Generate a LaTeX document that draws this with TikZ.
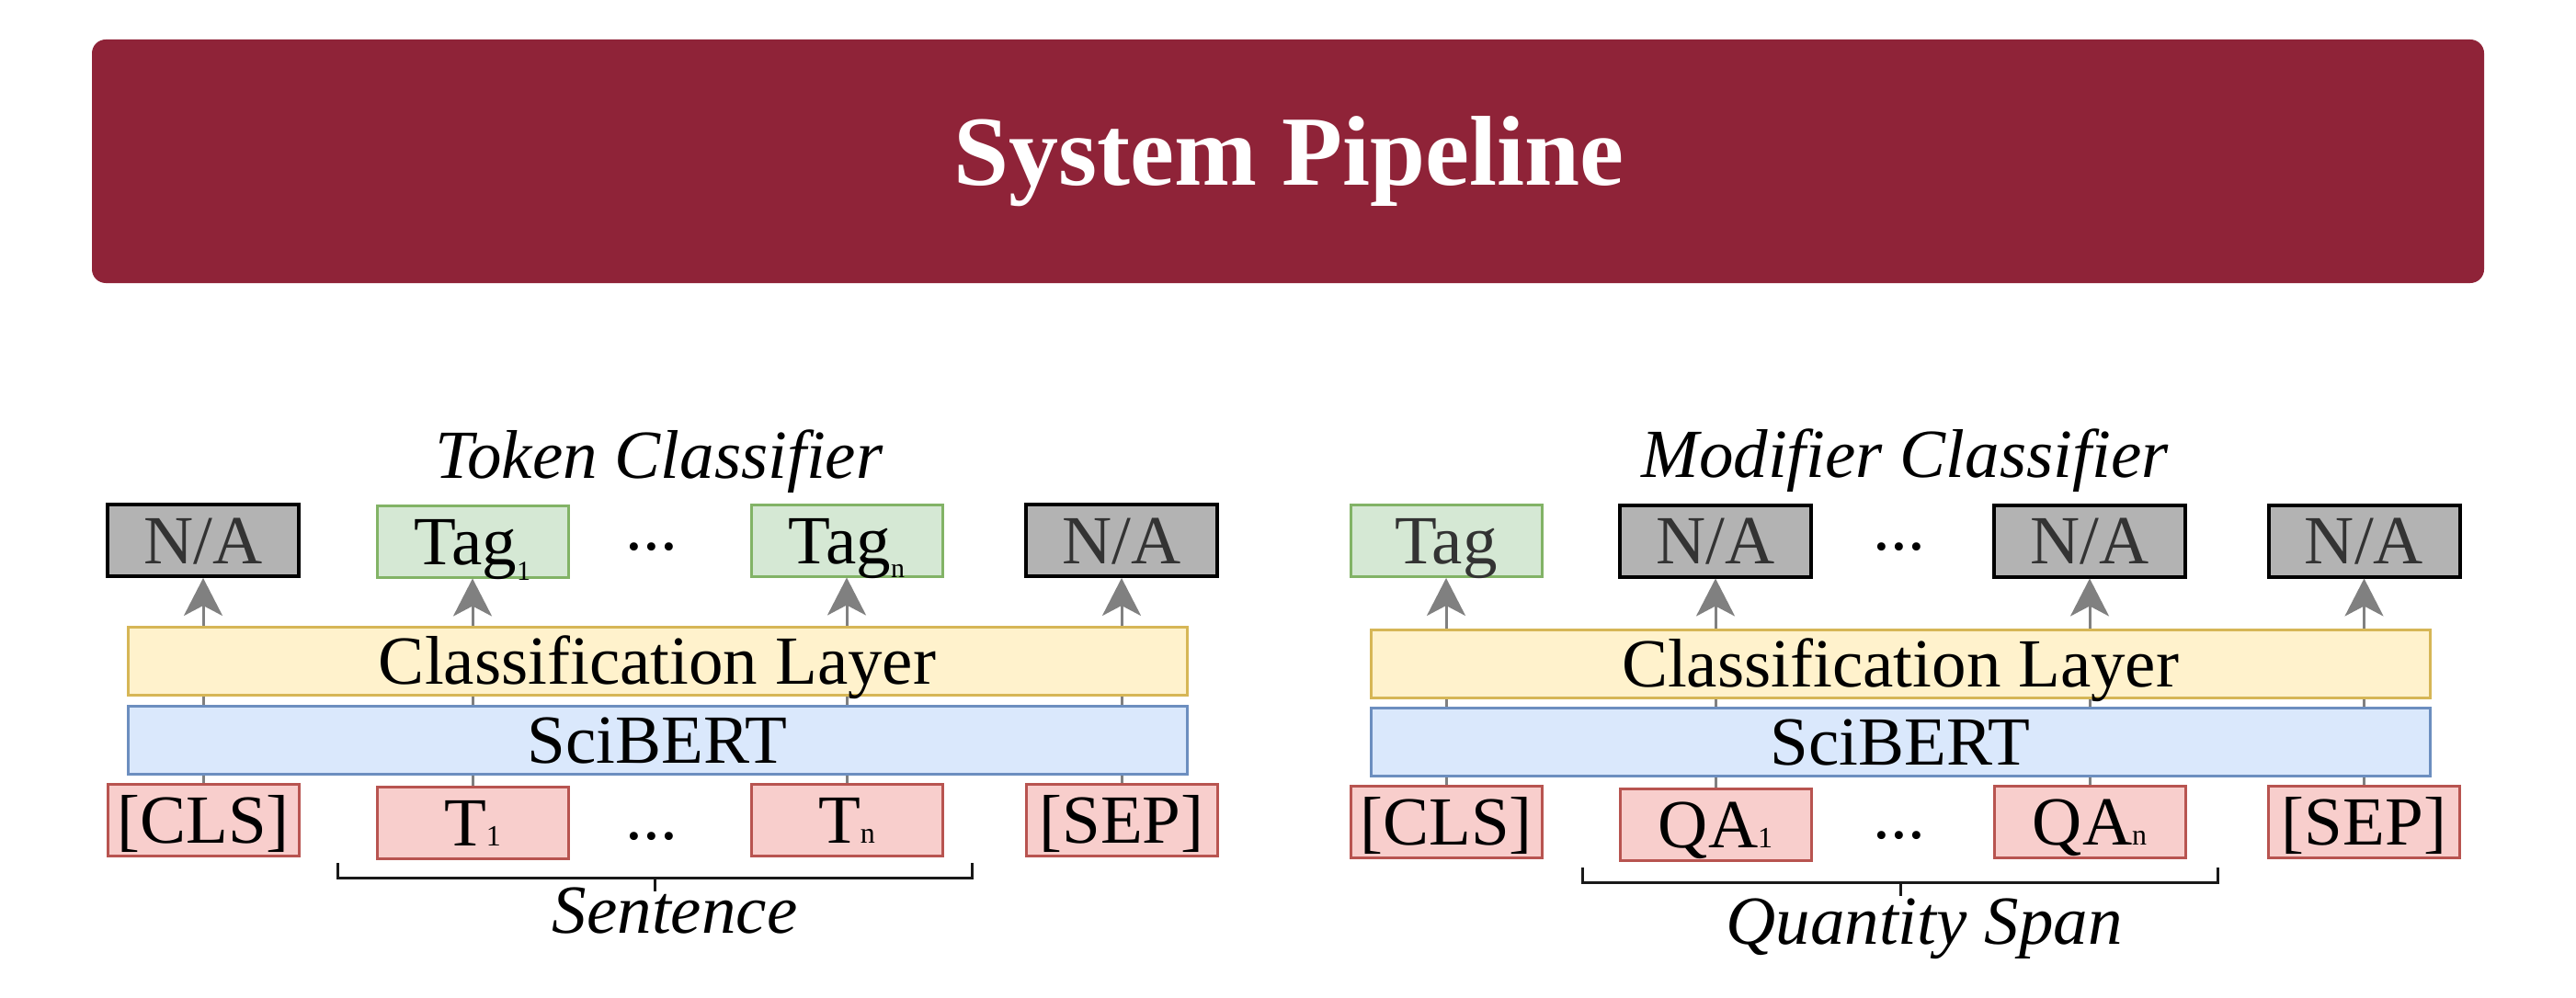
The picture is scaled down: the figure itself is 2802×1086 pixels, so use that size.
\documentclass[tikz,border=0pt]{standalone}
\usepackage{fontspec}
\setmainfont{Liberation Serif}
\usetikzlibrary{arrows.meta}
\definecolor{bannerC}{HTML}{8F2338}
\definecolor{redF}{HTML}{F8CECC}
\definecolor{redB}{HTML}{B85450}
\definecolor{greenF}{HTML}{D5E8D4}
\definecolor{greenB}{HTML}{82B366}
\definecolor{yellowF}{HTML}{FFF2CC}
\definecolor{yellowB}{HTML}{D6B656}
\definecolor{blueF}{HTML}{DAE8FC}
\definecolor{blueB}{HTML}{6C8EBF}
\definecolor{naF}{HTML}{B3B3B3}
\definecolor{naT}{HTML}{333333}
\definecolor{arrowC}{HTML}{808080}
\tikzset{
  lbl/.style={font=\fontsize{75}{75}\selectfont, text height=50pt, text depth=0pt, inner sep=0pt, anchor=center},
  cell/.style={lbl, line width=3pt, minimum width=208pt, minimum height=78pt},
  tokbox/.style={cell, draw=redB, fill=redF},
  nabox/.style={cell, draw=black, fill=naF, text=naT, line width=4pt},
  tagbox/.style={cell, draw=greenB, fill=greenF},
  layerbox/.style={lbl, line width=3pt, minimum width=1152pt, minimum height=74pt},
  clsbox/.style={layerbox, draw=yellowB, fill=yellowF},
  bertbox/.style={layerbox, draw=blueB, fill=blueF},
  conn/.style={draw=arrowC, line width=3pt, -{Stealth[length=41pt,width=42pt,inset=11pt]}},
  brace/.style={draw=black!90, line width=3pt},
  ital/.style={font=\fontsize{75}{75}\selectfont\itshape, inner sep=0pt, anchor=base},
  dots/.style={font=\fontsize{75}{75}\selectfont, inner sep=0pt, anchor=base},
}
\newcommand{\lowsub}[2]{\raisebox{-#1pt}{\fontsize{30}{30}\selectfont #2}}
\newcommand{\onsub}[1]{{\fontsize{32}{32}\selectfont #1}}
\begin{document}
\begin{tikzpicture}[x=1pt,y=-1pt]
\useasboundingbox (0,0) rectangle (2802,1086);
% banner
\node[fill=bannerC, rounded corners=15pt, minimum width=2602pt, minimum height=265pt, inner sep=0pt] (banner) at (1401,175.5) {};
\node[font=\fontsize{108}{108}\selectfont\bfseries, text=white, inner sep=0pt, anchor=base] (btitle) at (1402,202) {System Pipeline};

% ===== Left panel =====
\node[ital] (ltitle) at (717,520) {Token Classifier};
% outputs
\node[nabox] (lo1) at (221,588) {N/A};
\node[tagbox] (lo2) at (514,589) {Tag\lowsub{17}{1}};
\node[tagbox] (lo3) at (921,588) {Tag\lowsub{15}{n}};
\node[nabox] (lo4) at (1220,588) {N/A};
\node[dots] (ldt) at (709,598) {...};
% inputs
\node[tokbox] (li1) at (221,892) {[CLS]};
\node[tokbox] (li2) at (514,895) {T\onsub{1}};
\node[tokbox] (li3) at (921,892) {T\onsub{n}};
\node[tokbox] (li4) at (1220,892) {[SEP]};
\node[dots] (ldb) at (709,913) {...};
% connectors
\foreach \i in {1,2,3,4} { \draw[conn] (li\i.north) -- (lo\i.south); }
% layers
\node[clsbox] (lcl) at (715,719.5) {Classification Layer};
\node[bertbox] (lbe) at (715,805) {SciBERT};
% bracket
\coordinate (lbA) at (367,939);
\coordinate (lbB) at (367,955);
\coordinate (lbC) at (1057,955);
\coordinate (lbD) at (1057,939);
\coordinate (lbM) at (712,955);
\coordinate (lbT) at (712,970);
\draw[brace] (lbA) -- (lbB) -- (lbC) -- (lbD);
\draw[brace] (lbM) -- (lbT);
\node[ital] (lsent) at (734,1015) {Sentence};

% ===== Right panel =====
\node[ital] (rtitle) at (2072,519) {Modifier Classifier};
\node[tagbox, text=naT] (ro1) at (1573,588.5) {Tag};
\node[nabox] (ro2) at (1866,588.5) {N/A};
\node[nabox] (ro3) at (2273,588.5) {N/A};
\node[nabox] (ro4) at (2571.5,588.5) {N/A};
\node[dots] (rdt) at (2066,598) {...};
\node[tokbox] (ri1) at (1573,894.5) {[CLS]};
\node[tokbox] (ri2) at (1866,897) {QA\onsub{1}};
\node[tokbox] (ri3) at (2273,894.5) {QA\onsub{n}};
\node[tokbox] (ri4) at (2571.5,894.5) {[SEP]};
\node[dots] (rdb) at (2066,912) {...};
\foreach \i in {1,2,3,4} { \draw[conn] (ri\i.north) -- (ro\i.south); }
\node[clsbox] (rcl) at (2067,722) {Classification Layer};
\node[bertbox] (rbe) at (2067,807.5) {SciBERT};
\coordinate (rbA) at (1721,944);
\coordinate (rbB) at (1721,960);
\coordinate (rbC) at (2412,960);
\coordinate (rbD) at (2412,944);
\coordinate (rbM) at (2067,960);
\coordinate (rbT) at (2067,975);
\draw[brace] (rbA) -- (rbB) -- (rbC) -- (rbD);
\draw[brace] (rbM) -- (rbT);
\node[ital] (rspan) at (2093,1027) {Quantity Span};
\end{tikzpicture}
\end{document}
